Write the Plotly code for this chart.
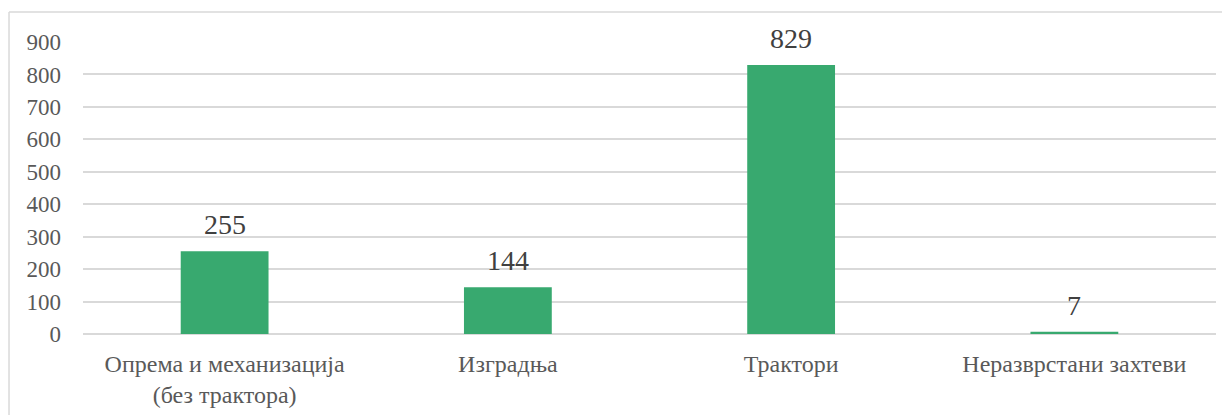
import plotly.graph_objects as go

categories = ["Опрема и механизација<br>(без трактора)", "Изградња", "Трактори", "Неразврстани захтеви"]
values = [255, 144, 829, 7]
y_ticks = [0, 100, 200, 300, 400, 500, 600, 700, 800, 900]

BAR_GREEN = "#38A96F"
GRID = "#D9D9D9"
TEXT = "#595959"
FONT = "Liberation Serif, Times New Roman, serif"

fig = go.Figure()
fig.add_trace(go.Bar(
    x=categories,
    y=values,
    marker=dict(color=BAR_GREEN, line=dict(width=0)),
    width=0.31,
    hoverinfo="skip",
))

# data labels above the bars
for c, v in zip(categories, values):
    fig.add_annotation(
        x=c, y=v, text=str(v),
        showarrow=False, yanchor="bottom", yshift=9,
        font=dict(family=FONT, size=28, color="#404040"),
    )

fig.update_layout(
    width=1230, height=415,
    paper_bgcolor="white", plot_bgcolor="white",
    margin=dict(l=75, r=22, t=34, b=89),
    showlegend=False,
    font=dict(family=FONT, size=24, color=TEXT),
    xaxis=dict(
        showgrid=False, showline=False, zeroline=False,
        ticks="", ticklabelstandoff=13,
        tickfont=dict(family=FONT, size=24, color=TEXT),
    ),
    yaxis=dict(
        range=[0, 900], tickvals=y_ticks,
        showgrid=True, gridcolor=GRID, gridwidth=1.5,
        zeroline=True, zerolinecolor=GRID, zerolinewidth=1.5,
        showline=False, ticks="", ticklabelstandoff=21,
        tickfont=dict(family=FONT, size=23, color=TEXT),
    ),
    shapes=[
        dict(type="line", xref="paper", yref="paper",
             x0=-0.0653, x1=1.03, y0=1.1027, y1=1.1027,
             line=dict(color="#D9D9D9", width=1.5)),
        dict(type="line", xref="paper", yref="paper",
             x0=-0.0653, x1=-0.0653, y0=1.1027, y1=-0.35,
             line=dict(color="#D9D9D9", width=1.5)),
    ],
)

fig.write_html("out.html")
